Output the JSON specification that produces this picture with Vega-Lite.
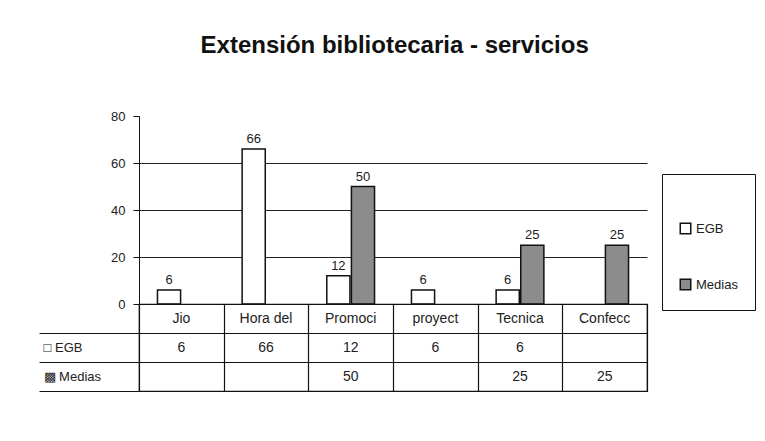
{
  "$schema": "https://vega.github.io/schema/vega-lite/v6.json",
  "background": "white",
  "padding": {"left": 37, "top": 34, "right": 5, "bottom": 5},
  "bounds": "flush",
  "config": {
    "font": "Liberation Sans",
    "view": {"stroke": null},
    "axis": {"labelFont": "Liberation Sans", "labelColor": "#222", "domainColor": "#111", "tickColor": "#111"}
  },
  "title": {"text": "Extensión bibliotecaria - servicios", "fontSize": 24, "fontWeight": "bold", "color": "#111", "offset": 52, "anchor": "middle", "dx": -2},
  "datasets": {
    "vals": [
      {"cat": "Jio", "serie": "EGB", "value": 6},
      {"cat": "Hora del", "serie": "EGB", "value": 66},
      {"cat": "Promoci", "serie": "EGB", "value": 12},
      {"cat": "proyect", "serie": "EGB", "value": 6},
      {"cat": "Tecnica", "serie": "EGB", "value": 6},
      {"cat": "Confecc", "serie": "EGB", "value": null},
      {"cat": "Jio", "serie": "Medias", "value": null},
      {"cat": "Hora del", "serie": "Medias", "value": null},
      {"cat": "Promoci", "serie": "Medias", "value": 50},
      {"cat": "proyect", "serie": "Medias", "value": null},
      {"cat": "Tecnica", "serie": "Medias", "value": 25},
      {"cat": "Confecc", "serie": "Medias", "value": 25}
    ],
    "cats": [
      {"cat": "Jio", "row": " "},
      {"cat": "Hora del", "row": " "},
      {"cat": "Promoci", "row": " "},
      {"cat": "proyect", "row": " "},
      {"cat": "Tecnica", "row": " "},
      {"cat": "Confecc", "row": " "}
    ]
  },
  "spacing": 0,
  "vconcat": [
    {
      "width": 508,
      "height": 188,
      "data": {"name": "vals"},
      "transform": [{"filter": "isValid(datum.value)"}],
      "encoding": {
        "x": {"field": "cat", "type": "nominal", "sort": null, "scale": {"paddingInner": 0, "paddingOuter": 0}, "axis": null},
        "xOffset": {"field": "serie", "type": "nominal", "scale": {"domain": ["EGB", "Medias"], "paddingOuter": 0.75, "paddingInner": 0.06}},
        "y": {"field": "value", "type": "quantitative", "scale": {"domain": [0, 80]},
          "axis": {"values": [0, 20, 40, 60, 80], "title": null, "labelFontSize": 13, "tickSize": 6, "labelPadding": 8,
            "grid": true, "gridColor": {"condition": {"test": "datum.value === 80 || datum.value === 0", "value": "transparent"}, "value": "#222"}, "gridWidth": 1.2, "minExtent": 100, "maxExtent": 100}}
      },
      "layer": [
        {
          "mark": {"type": "bar", "stroke": "#111", "strokeWidth": 1.5},
          "encoding": {
            "color": {"field": "serie", "type": "nominal",
              "scale": {"domain": ["EGB", "Medias"], "range": ["#ffffff", "#8c8c8c"]},
              "legend": {"title": " ", "titleFontSize": 12, "titlePadding": 19, "orient": "none", "legendX": 523, "legendY": 58, "direction": "vertical",
                "strokeColor": "#111", "padding": 17, "rowPadding": 39, "symbolType": "square", "symbolSize": 110,
                "symbolStrokeColor": "#111", "symbolStrokeWidth": 1.5, "labelFontSize": 13, "labelColor": "#222", "labelLimit": 200}}
          }
        },
        {
          "mark": {"type": "text", "dy": -10, "fontSize": 13, "color": "#222"},
          "encoding": {"text": {"field": "value", "type": "quantitative"}}
        }
      ]
    },
    {
      "width": 508,
      "height": 87,
      "view": {"stroke": "#111", "strokeWidth": 1.2},
      "encoding": {
        "x": {"field": "cat", "type": "nominal", "sort": ["Jio", "Hora del", "Promoci", "proyect", "Tecnica", "Confecc"], "scale": {"paddingInner": 0, "paddingOuter": 0},
          "axis": {"orient": "bottom", "labels": false, "ticks": false, "domain": false, "title": null, "grid": true, "bandPosition": 0, "tickBand": "extent", "gridColor": "#111", "gridWidth": 1.2}},
        "y": {"field": "row", "type": "nominal", "scale": {"domain": [" ", "EGB", "Medias"], "paddingInner": 0, "paddingOuter": 0},
          "axis": {"title": null, "domain": false, "grid": true, "bandPosition": 0, "gridColor": "#111", "gridWidth": 1.2,
            "values": ["EGB", "Medias"],
            "ticks": true, "tickSize": 100, "tickWidth": 1.2, "tickBand": "extent",
            "labelAlign": "left", "labelPadding": -4, "labelFontSize": 13, "labelColor": "#222",
            "labelExpr": "datum.value === 'EGB' ? '□ EGB' : datum.value === 'Medias' ? '▩ Medias' : ''",
            "minExtent": 100, "maxExtent": 100}}
      },
      "layer": [
        {
          "data": {"name": "vals"},
          "transform": [{"filter": "isValid(datum.value)"}, {"calculate": "datum.serie", "as": "row"}],
          "mark": {"type": "text", "fontSize": 14, "color": "#222"},
          "encoding": {"text": {"field": "value", "type": "quantitative"}}
        },
        {
          "data": {"name": "cats"},
          "mark": {"type": "text", "fontSize": 14, "color": "#222"},
          "encoding": {"text": {"field": "cat", "type": "nominal"}}
        }
      ]
    }
  ]
}
